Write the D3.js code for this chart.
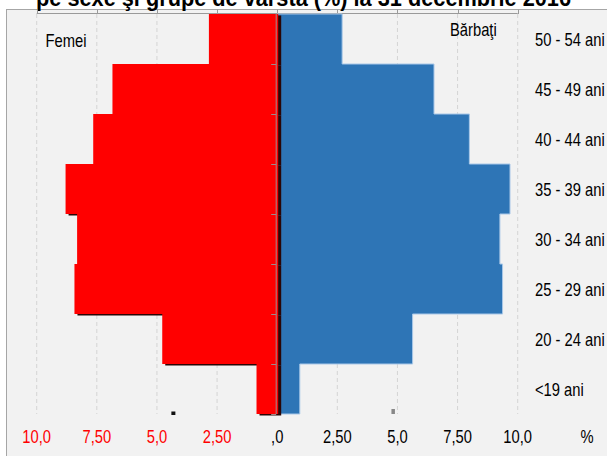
<!DOCTYPE html>
<html>
<head>
<meta charset="utf-8">
<script src="https://cdn.jsdelivr.net/npm/d3@7"></script>
<style>
  html, body { margin: 0; padding: 0; background: #fff; }
  svg text { font-family: "Liberation Sans", Arial, sans-serif; }
</style>
</head>
<body>
<div id="chart"></div>
<script>
// age groups, top to bottom
const groups = ['50 - 54 ani', '45 - 49 ani', '40 - 44 ani', '35 - 39 ani', '30 - 34 ani', '25 - 29 ani', '20 - 24 ani', '<19 ani'];
// share of population (%) — women (left) and men (right)
const femei   = [2.84, 6.85, 7.65, 8.80, 8.32, 8.43, 4.78, 0.86];
const barbati = [2.70, 6.52, 7.99, 9.68, 9.26, 9.37, 5.63, 0.94];
const tickValues = [-10, -7.5, -5, -2.5, 0, 2.5, 5, 7.5, 10];
const tickLabels = ['10,0', '7,50', '5,0', '2,50', ',0', '2,50', '5,0', '7,50', '10,0'];
const title = 'pe sexe şi grupe de vârstă (%) la 31 decembrie 2016';

const W = 607, H = 456;
const plotTop = 14, plotBottom = 414;
const narrow = 0.82; // no narrow font installed, so squeeze the regular one

const svg = d3.select('#chart').append('svg')
    .attr('width', W).attr('height', H)
    .attr('viewBox', `0 0 ${W} ${H}`);

const x = d3.scaleLinear().domain([-10, 10]).range([36.7, 517.7]);
const y = d3.scaleBand().domain(groups).range([plotTop, plotBottom]).padding(0);

const label = (sel, tx, ty, anchor) => sel
    .attr('transform', `translate(${tx},${ty}) scale(${narrow},1)`)
    .attr('text-anchor', anchor || 'start')
    .attr('font-size', 18);

// chart frame
svg.append('rect')
    .attr('x', 6.5).attr('y', 9.5)
    .attr('width', W + 10).attr('height', H + 10)
    .attr('fill', '#f2f2f2').attr('stroke', '#a6a6a6');

// title (cut by the top edge)
svg.append('text')
    .attr('x', W / 2).attr('y', 6)
    .attr('text-anchor', 'middle')
    .attr('font-size', 23).attr('font-weight', 'bold')
    .attr('textLength', 535).attr('lengthAdjust', 'spacingAndGlyphs')
    .text(title);

// dashed grid
svg.append('g').selectAll('line')
    .data(tickValues.filter(d => d !== 0))
    .join('line')
    .attr('x1', d => x(d)).attr('x2', d => x(d))
    .attr('y1', plotTop).attr('y2', plotBottom)
    .attr('stroke', '#d4d4d4').attr('stroke-dasharray', '4,3');

// top axis
const topAxis = svg.append('g').attr('stroke', '#9a9a9a').attr('fill', 'none');
topAxis.append('line')
    .attr('x1', x(-10)).attr('x2', x(10))
    .attr('y1', plotTop - 0.5).attr('y2', plotTop - 0.5);
topAxis.selectAll('line.t')
    .data(tickValues)
    .join('line').attr('class', 't')
    .attr('x1', d => Math.round(x(d)) + 0.5).attr('x2', d => Math.round(x(d)) + 0.5)
    .attr('y1', 9.5).attr('y2', plotTop);

// men bars
svg.append('g').selectAll('rect')
    .data(groups)
    .join('rect')
    .attr('x', x(0))
    .attr('y', d => y(d))
    .attr('width', (d, i) => x(barbati[i]) - x(0))
    .attr('height', y.bandwidth())
    .attr('fill', '#2e75b6');

// light outline around the men's staircase only
const outline = [[0, plotTop]];
groups.forEach((g, i) => {
    outline.push([barbati[i], y(g)]);
    outline.push([barbati[i], y(g) + y.bandwidth()]);
});
outline.push([0, plotBottom]);
svg.append('path')
    .attr('d', d3.line().x(d => x(d[0])).y(d => d[1])(outline))
    .attr('fill', 'none')
    .attr('stroke', '#a9c8e8').attr('stroke-width', 1);

// women bars with a small drop shadow
svg.append('g').selectAll('rect')
    .data(groups)
    .join('rect')
    .attr('x', (d, i) => x(-femei[i]) + 3)
    .attr('y', d => y(d) + 1.5)
    .attr('width', (d, i) => x(0) - x(-femei[i]) + 1)
    .attr('height', y.bandwidth())
    .attr('fill', '#2a0505');
svg.append('g').selectAll('rect')
    .data(groups)
    .join('rect')
    .attr('x', (d, i) => x(-femei[i]))
    .attr('y', d => y(d))
    .attr('width', (d, i) => x(0) - x(-femei[i]) + 1)
    .attr('height', y.bandwidth())
    .attr('fill', '#ff0000');

// centre axis with ticks between groups
const mid = svg.append('g').attr('stroke', '#a08a8a').attr('fill', 'none');
mid.append('line')
    .attr('x1', x(0) - 1).attr('x2', x(0) - 1)
    .attr('y1', plotTop).attr('y2', plotBottom);
mid.selectAll('line.t')
    .data(groups.slice(1).concat([null]))
    .join('line').attr('class', 't')
    .attr('x1', x(0) - 6).attr('x2', x(0) - 1)
    .attr('y1', d => (d ? y(d) : plotBottom) + 0.5).attr('y2', d => (d ? y(d) : plotBottom) + 0.5);

// small stray marks near the bottom
svg.append('rect').attr('x', x(-4.4)).attr('y', 411.5).attr('width', 4).attr('height', 3.5).attr('fill', '#111');
svg.append('rect').attr('x', x(4.75)).attr('y', 409).attr('width', 3.5).attr('height', 5).attr('fill', '#888');

// group labels
svg.append('g').selectAll('text')
    .data(groups)
    .join('text')
    .each(function (d) { label(d3.select(this), 535, y(d) + y.bandwidth() / 2 + 6.5); })
    .attr('fill', '#000')
    .text(d => d);

// side labels
label(svg.append('text'), 45.5, 47).text('Femei');
label(svg.append('text'), 450, 36).text('Bărbaţi');

// bottom tick labels
svg.append('g').selectAll('text')
    .data(tickValues)
    .join('text')
    .each(function (d) { label(d3.select(this), x(d), 443, 'middle'); })
    .attr('fill', d => d < 0 ? '#ff0000' : '#000')
    .text((d, i) => tickLabels[i]);
label(svg.append('text'), 587, 443, 'middle').text('%');
</script>
</body>
</html>
